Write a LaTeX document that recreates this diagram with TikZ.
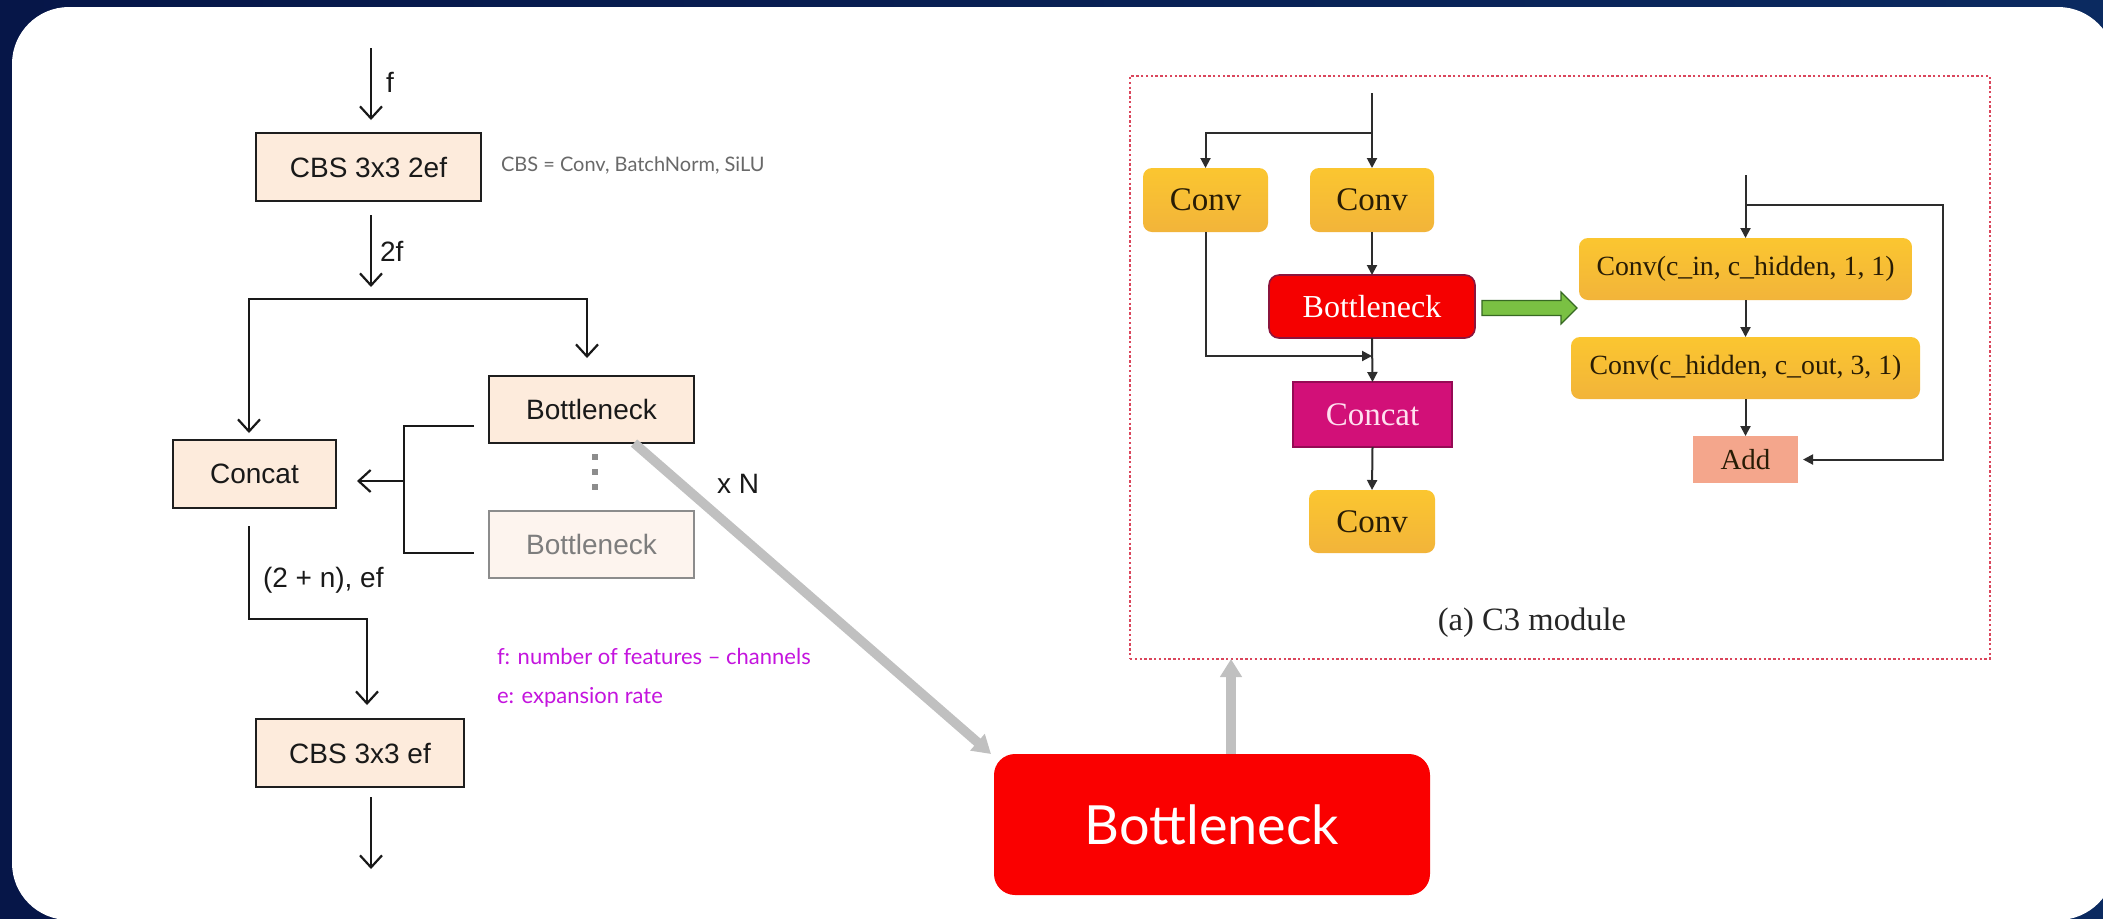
\documentclass[tikz,border=0pt]{standalone}
\usepackage{fontspec}
\setmainfont{Liberation Sans}
\newfontfamily\serifC{Liberation Serif}
\newfontfamily\geo{Lato}
\usetikzlibrary{arrows.meta,calc}
\newcommand{\fsz}[1]{\fontsize{#1pt}{#1pt}\selectfont}
\definecolor{navyL}{RGB}{6,22,72}
\definecolor{navyR}{RGB}{11,42,96}
\definecolor{peach}{RGB}{253,235,220}
\definecolor{peachF}{RGB}{253,244,238}
\definecolor{boxline}{RGB}{30,30,30}
\definecolor{fadeline}{RGB}{140,140,140}
\definecolor{fadetext}{RGB}{125,125,125}
\definecolor{annogray}{RGB}{105,105,105}
\definecolor{purp}{RGB}{196,20,222}
\definecolor{grayarrow}{RGB}{192,192,192}
\definecolor{bigred}{RGB}{250,0,0}
\definecolor{framepink}{RGB}{218,70,92}
\definecolor{convT}{RGB}{251,198,48}
\definecolor{convB}{RGB}{242,180,58}
\definecolor{convtext}{RGB}{40,28,5}
\definecolor{bnred}{RGB}{245,0,0}
\definecolor{bnline}{RGB}{140,20,60}
\definecolor{mag}{RGB}{210,16,120}
\definecolor{magline}{RGB}{150,10,85}
\definecolor{magtext}{RGB}{255,225,240}
\definecolor{salmon}{RGB}{244,166,140}
\definecolor{arrowdark}{RGB}{45,45,45}
\definecolor{greenF}{RGB}{122,193,67}
\definecolor{greenD}{RGB}{55,105,35}
\begin{document}
\begin{tikzpicture}[x=0.5pt,y=-0.5pt,
  every node/.style={inner sep=0pt,outer sep=0pt},
  lbox/.style={draw=boxline,fill=peach,line width=1pt,font=\fsz{14},text=black!90},
  fadebox/.style={draw=fadeline,fill=peachF,line width=1pt,font=\fsz{14},text=fadetext},
  lbl/.style={font=\fsz{14},text=black!90},
  lline/.style={draw=black!90,line width=1.1pt},
  larr/.style={lline,-{Straight Barb[length=6pt,width=11pt]}},
  bigarrow/.style={draw=grayarrow,line width=4.75pt,-{Triangle[length=9pt,width=10.5pt]}},
  convbox/.style={rounded corners=4.5pt,top color=convT,bottom color=convB,draw=none,font=\serifC\fsz{16.5},text=convtext},
  carr/.style={draw=arrowdark,line width=1pt,-{Triangle[length=5pt,width=5pt]}}]
\useasboundingbox (0,0) rectangle (2103,918);
\clip (0,0) rectangle (2103,918);
\shade[left color=navyL,right color=navyR] (0,0) rectangle (2103,918);
\fill[white,rounded corners=28.5pt] (12,7) rectangle (2115,920);

% ---------- left diagram ----------
\node[lbox,minimum width=112.5pt,minimum height=34pt] (cbs1) at (368.5,167) {CBS 3x3 2ef};
\node[lbox,minimum width=102.5pt,minimum height=33.5pt] (bn1) at (591.5,409.5) {Bottleneck};
\node[lbox,minimum width=81.5pt,minimum height=34pt] (concat1) at (254.5,474) {Concat};
\node[fadebox,minimum width=102.5pt,minimum height=33.5pt] (bn2) at (591.5,544.5) {Bottleneck};
\node[lbox,minimum width=104pt,minimum height=34pt] (cbs2) at (360,753) {CBS 3x3 ef};

\coordinate (in1) at (371,48);
\draw[larr,shorten >=6.5pt] (in1) -- (in1 |- cbs1.north);
\node[lbl,anchor=west] (lf) at (386,82) {f};
\coordinate (split) at (371,299);
\draw[larr,shorten <=7pt,shorten >=6pt] (in1 |- cbs1.south) -- (split);
\node[lbl,anchor=west] (l2f) at (380,251) {2f};
\node[font=\geo\fsz{10},text=annogray,anchor=west] (cbsdef) at (501,165) {CBS = Conv, BatchNorm, SiLU};

\coordinate (sl) at (249,299);
\coordinate (sr) at (587,299);
\draw[{Straight Barb[length=6pt,width=11pt]}-{Straight Barb[length=6pt,width=11pt]},lline,shorten <=3.5pt,shorten >=9pt]
  (sl |- concat1.north) -- (sl) -- (sr) -- (sr |- bn1.north);

\coordinate (b1) at (474,426);
\coordinate (b2) at (474,553);
\coordinate (bj) at (404,481);
\draw[lline] (b1) -- (bj |- b1) -- (bj |- b2) -- (b2);
\draw[larr,shorten >=10.5pt] (bj) -- (bj -| concat1.east);

\coordinate (d1) at (595,454);
\coordinate (d2) at (595,499);
\draw[draw=fadeline,line width=3pt,dash pattern=on 3pt off 4.5pt] (d1) -- (d2);
\node[lbl] (xn) at (738,484) {x N};

\coordinate (c1) at (249,619);
\coordinate (c2) at (367,619);
\draw[larr,shorten <=9pt,shorten >=7pt] (concat1.south -| c1) -- (c1) -- (c2) -- (c2 |- cbs2.north);
\node[lbl,anchor=west] (lnef) at (263,580) {(2 + n), ef};
\coordinate (out1) at (371,869);
\draw[larr,shorten <=5pt] (out1 |- cbs2.south) -- (out1);

\node[font=\geo\fsz{11},text=purp,anchor=west] (pf) at (497,656) {f: number of features – channels};
\node[font=\geo\fsz{11},text=purp,anchor=west] (pe) at (497,697) {e: expansion rate};

% ---------- big bottleneck ----------
\node[rounded corners=10.5pt,fill=bigred,minimum width=218pt,minimum height=70.5pt,text=white,font=\geo\fsz{27}] (bnbig) at (1212,824.5) {Bottleneck};
\coordinate (ga0) at (634,0);
\draw[bigarrow] (bn1.south -| ga0) -- ([xshift=-1.5pt]bnbig.north west);

% ---------- C3 frame ----------
\node[draw=framepink,line width=1.3pt,dash pattern=on 1.2pt off 1.2pt,minimum width=430pt,minimum height=291.5pt] (frame) at (1560,367.5) {};
\coordinate (ua) at (1231,0);
\draw[bigarrow] (bnbig.north -| ua) -- (frame.south -| ua);

\node[convbox,minimum width=62.5pt,minimum height=32pt] (conv1) at (1205.5,200) {Conv};
\node[convbox,minimum width=62pt,minimum height=32pt] (conv2) at (1372,200) {Conv};
\node[rounded corners=5pt,fill=bnred,draw=bnline,line width=0.8pt,minimum width=103pt,minimum height=31.5pt,font=\serifC\fsz{16},text=white] (bnr) at (1372,306.5) {Bottleneck};
\node[fill=mag,draw=magline,line width=0.6pt,minimum width=79.5pt,minimum height=32.5pt,font=\serifC\fsz{16.5},text=magtext] (concat2) at (1372.5,414.5) {Concat};
\node[convbox,minimum width=63pt,minimum height=31.5pt] (conv3) at (1372,521.5) {Conv};
\node[convbox,minimum width=166.5pt,minimum height=31pt,font=\serifC\fsz{13.9}] (convA) at (1745.5,269) {Conv(c\_in, c\_hidden, 1, 1)};
\node[convbox,minimum width=174.5pt,minimum height=31pt,font=\serifC\fsz{13.9}] (convB2) at (1745.5,368) {Conv(c\_hidden, c\_out, 3, 1)};
\node[fill=salmon,minimum width=52.5pt,minimum height=23.5pt,font=\serifC\fsz{14.5},text=convtext] (add) at (1745.5,459.5) {Add};
\node[font=\serifC\fsz{16.3},text=black!85] (cap) at (1532,623) {(a) C3 module};

\coordinate (t1) at (1372,93);
\coordinate (j1) at (1372,133);
\draw[carr] (t1) -- (conv2.north);
\draw[carr] (j1) -- (j1 -| conv1.north) -- (conv1.north);
\draw[carr] (conv2.south) -- (bnr.north);
\coordinate (j2) at (1372,356);
\draw[carr] (conv1.south) -- (conv1.south |- j2) -- (j2);
\draw[carr] (bnr.south) -- (concat2.north);
\draw[carr] (concat2.south) -- (conv3.north);

\coordinate (t2) at (1745.5,175);
\coordinate (j3) at (1745.5,205);
\coordinate (j4) at (1943,205);
\draw[carr] (t2) -- (convA.north);
\draw[carr,shorten >=2.5pt] (j3) -- (j4) -- (j4 |- add.east) -- (add.east);
\draw[carr] (convA.south) -- (convB2.north);
\draw[carr] (convB2.south) -- (add.north);

\coordinate (ga) at ([xshift=3.5pt,yshift=-0.75pt]bnr.east);
\filldraw[fill=greenF,draw=greenD,line width=0.6pt]
  ($(ga)+(0,-7.5)$) -- ($(ga)+(79,-7.5)$) -- ($(ga)+(79,-16)$) -- ($(ga)+(95,0)$)
  -- ($(ga)+(79,16)$) -- ($(ga)+(79,7.5)$) -- ($(ga)+(0,7.5)$) -- cycle;
\end{tikzpicture}
\end{document}
